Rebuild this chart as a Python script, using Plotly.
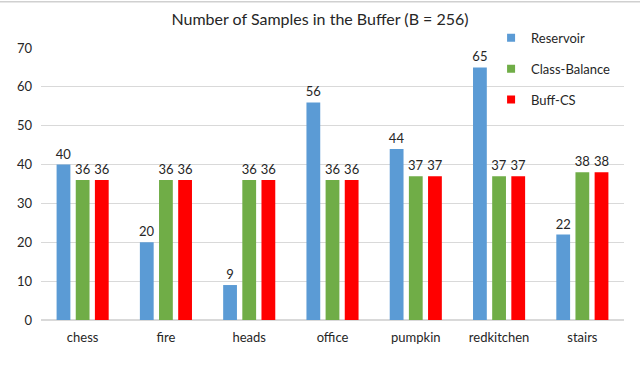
import plotly.graph_objects as go

categories = ["chess", "fire", "heads", "office", "pumpkin", "redkitchen", "stairs"]
reservoir = [40, 20, 9, 56, 44, 65, 22]
class_balance = [36, 36, 36, 36, 37, 37, 38]
buff_cs = [36, 36, 36, 36, 37, 37, 38]

series = [
    ("Reservoir", reservoir, "#5B9BD5"),
    ("Class-Balance", class_balance, "#70AD47"),
    ("Buff-CS", buff_cs, "#FF0000"),
]

fig = go.Figure()
for name, vals, color in series:
    fig.add_trace(go.Bar(
        x=categories, y=vals, name=name, showlegend=False,
        marker=dict(color=color, line=dict(width=0)),
        text=vals, textposition="outside", cliponaxis=False, constraintext="none",
        textfont=dict(size=13, color="#262626"),
    ))
    # legend entry with a small square marker
    fig.add_trace(go.Scatter(
        x=[None], y=[None], mode="markers", name=name, legendgroup=name,
        marker=dict(symbol="square", size=8, color=color),
    ))

fig.update_layout(
    width=640, height=380,
    paper_bgcolor="white", plot_bgcolor="white",
    font=dict(family="Lato, Open Sans, sans-serif", color="#262626"),
    title=dict(text="Number of Samples in the Buffer (B = 256)", x=0.5, xanchor="center",
               y=0.95, yref="container", yanchor="middle", font=dict(size=16, color="#262626")),
    barmode="group", bargap=0.31, bargroupgap=0.28,
    margin=dict(l=41, r=16, t=48, b=60, autoexpand=False),
    showlegend=True,
    legend=dict(x=0.772, y=0.94, yref="container", xanchor="left", yanchor="top",
                bgcolor="rgba(0,0,0,0)", font=dict(size=13),
                tracegroupgap=11, itemwidth=30),
)
fig.update_yaxes(range=[0, 70], dtick=10, showgrid=True, gridcolor="#D9D9D9",
                 zeroline=True, zerolinecolor="#D9D9D9", showline=False, automargin=False,
                 tickfont=dict(size=13), ticks="", ticklabelstandoff=8)
fig.update_xaxes(showline=False, tickfont=dict(size=13), ticks="", automargin=False,
                 ticklabelstandoff=8)

fig.add_shape(type="line", xref="paper", yref="paper", x0=-0.08, x1=1.04, y0=1.17, y1=1.17,
              line=dict(color="#D0D0D0", width=1.5))

fig.write_html("out.html", config={"displayModeBar": False},
               post_script="document.body.style.margin='0';")
